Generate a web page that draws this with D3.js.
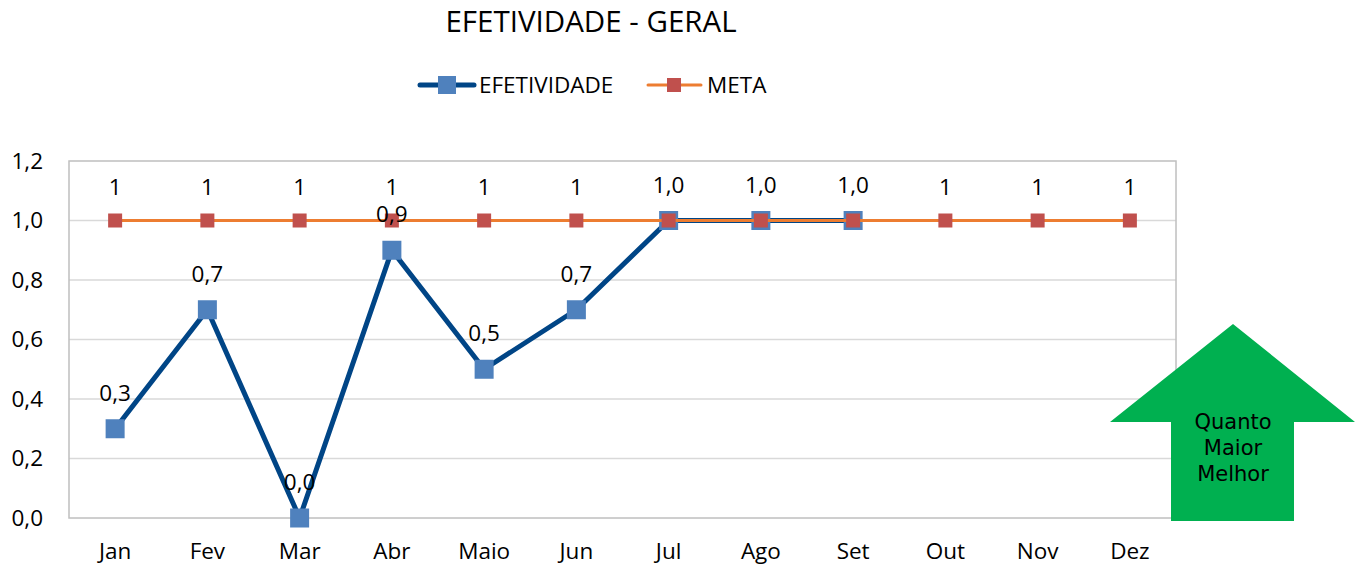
<!DOCTYPE html>
<html>
<head>
<meta charset="utf-8">
<script src="https://cdn.jsdelivr.net/npm/d3@7/dist/d3.min.js"></script>
<style>
  body { margin: 0; background: #fff; }
  text { font-family: "Open Sans", Lato, sans-serif; fill: #000; }
</style>
</head>
<body>
<svg id="chart" width="1367" height="568"></svg>
<script>
/** chart data **/
var months = ["Jan", "Fev", "Mar", "Abr", "Maio", "Jun", "Jul", "Ago", "Set", "Out", "Nov", "Dez"];
var efetividade = [0.3, 0.7, 0.0, 0.9, 0.5, 0.7, 1.0, 1.0, 1.0];
var meta = [1, 1, 1, 1, 1, 1, 1, 1, 1, 1, 1, 1];
var yTicks = [0, 0.2, 0.4, 0.6, 0.8, 1.0, 1.2];
var arrowText = ["Quanto", "Maior", "Melhor"];

var svg = d3.select("#chart");
var margin = {left: 69, top: 161, right: 1176, bottom: 518};
var labelFont = "22.5px";

/** scales **/
var xScale = d3.scaleBand()
    .domain(months)
    .range([margin.left, margin.right]);
var yScale = d3.scaleLinear()
    .domain([0, 1.2])
    .range([margin.bottom, margin.top]);
function xc(i) { return xScale(months[i]) + xScale.bandwidth() / 2; }
var fmt = function (v) { return d3.format(".1f")(v).replace(".", ","); };

/** title **/
svg.append("text")
    .text("EFETIVIDADE - GERAL")
    .attr("x", 591).attr("y", 32)
    .style("font-size", "29.5px")
    .style("text-anchor", "middle");

/** gridlines + border **/
svg.append("g").selectAll("line")
    .data(yTicks.slice(1, -1))
    .enter().append("line")
    .attr("x1", margin.left).attr("x2", margin.right)
    .attr("y1", function (d) { return yScale(d); })
    .attr("y2", function (d) { return yScale(d); })
    .attr("stroke", "#d9d9d9").attr("stroke-width", 1.3);
svg.append("rect")
    .attr("x", margin.left).attr("y", margin.top)
    .attr("width", margin.right - margin.left)
    .attr("height", margin.bottom - margin.top)
    .attr("fill", "none").attr("stroke", "#bfbfbf").attr("stroke-width", 1.5);

/** axes (labels only) **/
var yAxis = d3.axisLeft(yScale).tickValues(yTicks).tickFormat(fmt).tickSize(0).tickPadding(26);
var gy = svg.append("g").attr("transform", "translate(" + margin.left + ",0)").call(yAxis);
gy.select(".domain").remove();
gy.selectAll("text").style("font-size", labelFont).style("font-family", "'Open Sans', sans-serif");

var xAxis = d3.axisBottom(xScale).tickSize(0).tickPadding(25);
var gx = svg.append("g").attr("transform", "translate(0," + margin.bottom + ")").call(xAxis);
gx.select(".domain").remove();
gx.selectAll("text").style("font-size", labelFont).style("font-family", "'Open Sans', sans-serif");

/** EFETIVIDADE line **/
var line = d3.line()
    .x(function (d, i) { return xc(i); })
    .y(function (d) { return yScale(d); });
svg.append("path")
    .datum(efetividade)
    .attr("fill", "none")
    .attr("stroke", "#004586")
    .attr("stroke-width", 5)
    .attr("stroke-linejoin", "round")
    .attr("d", line);
svg.append("g").selectAll("rect")
    .data(efetividade)
    .enter().append("rect")
    .attr("x", function (d, i) { return xc(i) - 9.5; })
    .attr("y", function (d) { return yScale(d) - 9.5; })
    .attr("width", 19).attr("height", 19)
    .attr("fill", "#4f81bd");

/** META line **/
svg.append("path")
    .datum(meta)
    .attr("fill", "none")
    .attr("stroke", "#ed7d31")
    .attr("stroke-width", 3)
    .attr("d", line);
svg.append("g").selectAll("rect")
    .data(meta)
    .enter().append("rect")
    .attr("x", function (d, i) { return xc(i) - 7; })
    .attr("y", function (d) { return yScale(d) - 7; })
    .attr("width", 14).attr("height", 14)
    .attr("fill", "#c0504d");

/** data labels: meta label hidden where the efetividade label covers it **/
var metaLabels = meta.map(function (d, i) { return {v: d, i: i}; })
    .filter(function (d) { return efetividade[d.i] === undefined || efetividade[d.i] !== d.v; });
svg.append("g").selectAll("text")
    .data(metaLabels)
    .enter().append("text")
    .text(function (d) { return d.v; })
    .attr("x", function (d) { return xc(d.i); })
    .attr("y", function (d) { return yScale(d.v) - 26; })
    .style("font-size", labelFont)
    .style("text-anchor", "middle");
svg.append("g").selectAll("text")
    .data(efetividade)
    .enter().append("text")
    .text(fmt)
    .attr("x", function (d, i) { return xc(i); })
    .attr("y", function (d) { return yScale(d) - 28; })
    .style("font-size", labelFont)
    .style("text-anchor", "middle");

/** legend **/
var legend = svg.append("g");
legend.append("line").attr("x1", 420).attr("x2", 474).attr("y1", 85).attr("y2", 85)
    .attr("stroke", "#004586").attr("stroke-width", 5).attr("stroke-linecap", "round");
legend.append("rect").attr("x", 438).attr("y", 76).attr("width", 18).attr("height", 18).attr("fill", "#4f81bd");
legend.append("text").text("EFETIVIDADE").attr("x", 479).attr("y", 93).style("font-size", labelFont);
legend.append("line").attr("x1", 648).attr("x2", 701).attr("y1", 85).attr("y2", 85)
    .attr("stroke", "#ed7d31").attr("stroke-width", 3).attr("stroke-linecap", "round");
legend.append("rect").attr("x", 667).attr("y", 78).attr("width", 14).attr("height", 14).attr("fill", "#c0504d");
legend.append("text").text("META").attr("x", 707).attr("y", 93).style("font-size", labelFont);

/** green arrow **/
var arrow = svg.append("g");
arrow.append("polygon")
    .attr("points", "1233,324 1355,422 1294,422 1294,521 1171,521 1171,422 1110,422")
    .attr("fill", "#00b050");
arrow.selectAll("text")
    .data(arrowText)
    .enter().append("text")
    .text(function (d) { return d; })
    .attr("x", 1233)
    .attr("y", function (d, i) { return 429 + i * 26; })
    .style("font-family", "'DejaVu Sans', Verdana, sans-serif")
    .style("font-size", "21px")
    .style("text-anchor", "middle");
</script>
</body>
</html>
